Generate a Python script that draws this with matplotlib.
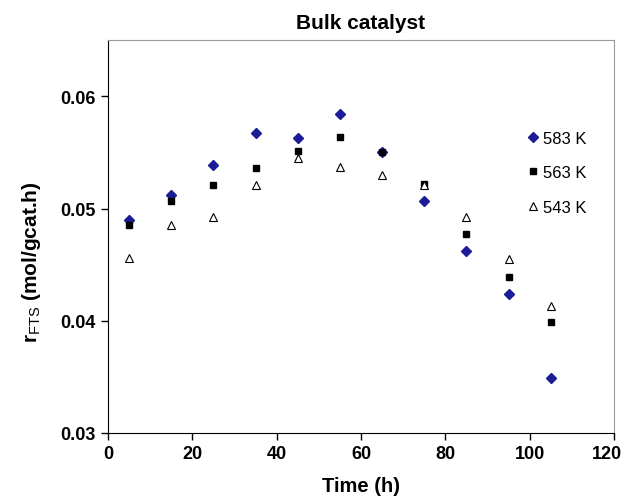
import matplotlib
matplotlib.use('Agg')
import matplotlib.pyplot as plt
from matplotlib.transforms import ScaledTranslation

plt.rcParams['font.family'] = ['Liberation Sans', 'DejaVu Sans']
plt.rcParams['mathtext.fontset'] = 'custom'
plt.rcParams['mathtext.rm'] = 'Liberation Sans'

time_h = [5, 15, 25, 35, 45, 55, 65, 75, 85, 95, 105]
r_583 = [0.0490, 0.0512, 0.0539, 0.0567, 0.0563, 0.0584, 0.0550, 0.0507, 0.0462, 0.0424, 0.0349]
r_563 = [0.0485, 0.0507, 0.0521, 0.0536, 0.0551, 0.0564, 0.0550, 0.0522, 0.0477, 0.0439, 0.0399]
r_543 = [0.0456, 0.0485, 0.0492, 0.0521, 0.0545, 0.0537, 0.0530, 0.0521, 0.0492, 0.0455, 0.0413]

fig = plt.figure(figsize=(6.24, 5.02), dpi=100)
ax = fig.add_axes([0.173, 0.1355, 0.811, 0.7825])

ax.plot(time_h, r_583, linestyle='none', marker='D', markersize=5, color='#1c1c96', label='583 K')
ax.plot(time_h, r_563, linestyle='none', marker='s', markersize=5, color='black', label='563 K')
ax.plot(time_h, r_543, linestyle='none', marker='^', markersize=6, markerfacecolor='white',
        markeredgecolor='black', markeredgewidth=0.8, label='543 K')

ax.set_xlim(0, 120)
ax.set_ylim(0.03, 0.065)
ax.set_xticks([0, 20, 40, 60, 80, 100, 120])
ax.set_yticks([0.03, 0.04, 0.05, 0.06])
ax.set_yticklabels(['0.03', '0.04', '0.05', '0.06'])

for s in ['top', 'right']:
    ax.spines[s].set_color('#999999')
for s in ['left', 'bottom']:
    ax.spines[s].set_color('black')
ax.tick_params(direction='out', length=5, width=1, labelsize=13, pad=4)
for lab in ax.get_xticklabels() + ax.get_yticklabels():
    lab.set_fontweight('bold')
# last x label sits a bit left of its tick so it stays inside the picture
last = ax.get_xticklabels()[-1]
last.set_transform(last.get_transform() + ScaledTranslation(-0.07, 0, fig.dpi_scale_trans))

ax.set_title('Bulk catalyst', fontsize=15, fontweight='bold', pad=9)
ax.set_xlabel('Time (h)', fontsize=14.5, fontweight='bold', labelpad=10)
ax.set_ylabel(r'r$_{\mathrm{FTS}}$ (mol/gcat.h)', fontsize=15, fontweight='bold')
ax.yaxis.set_label_coords(-0.128, 0.438)

ax.legend(loc='upper right', bbox_to_anchor=(0.946, 0.77), frameon=False, fontsize=12,
          handletextpad=0.1, handlelength=1.0, labelspacing=1.18, borderpad=0, borderaxespad=0)

fig.savefig('out.png', dpi=100)
